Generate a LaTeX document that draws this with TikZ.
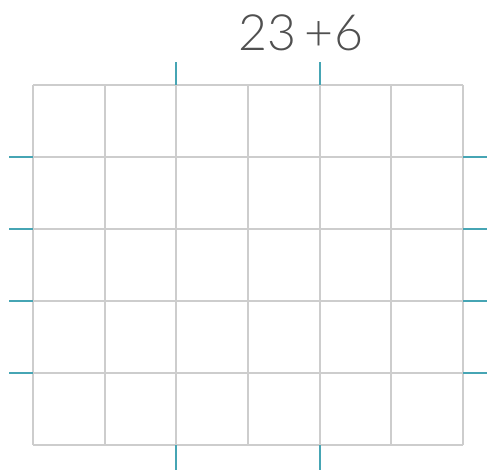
\documentclass[tikz,border=0pt]{standalone}
\usepackage{fontspec}
\IfFontExistsTF{Lato Light}{\setmainfont{Lato Light}}{\setmainfont{Liberation Sans}}
\begin{document}
\begin{tikzpicture}[x=1pt,y=-1pt,
  gridline/.style={draw={rgb,255:red,205;green,205;blue,205},line width=2pt},
  tickline/.style={draw={rgb,255:red,70;green,165;blue,180},line width=2pt},
  lbl/.style={inner sep=0pt,anchor=base,text={rgb,255:red,80;green,80;blue,80},font=\fontsize{50}{50}\selectfont}]
\useasboundingbox (0,0) rectangle (487,472);
% grid
\foreach \x in {33,104.7,176.3,248,319.7,391.3,463}
  \draw[gridline] (\x,85) -- (\x,445);
\foreach \y in {85,157,229,301,373,445}
  \draw[gridline] (33,\y) -- (463,\y);
% ticks
\foreach \x in {176.3,319.7}{
  \draw[tickline] (\x,62) -- (\x,85);
  \draw[tickline] (\x,445) -- (\x,470);
}
\foreach \y in {157,229,301,373}{
  \draw[tickline] (9,\y) -- (33,\y);
  \draw[tickline] (463,\y) -- (487,\y);
}
% label
\node[lbl] (a) at (267,50) {23};
\node[lbl] (b) at (318.5,50) {+};
\node[lbl] (c) at (349,50) {6};
\end{tikzpicture}
\end{document}
